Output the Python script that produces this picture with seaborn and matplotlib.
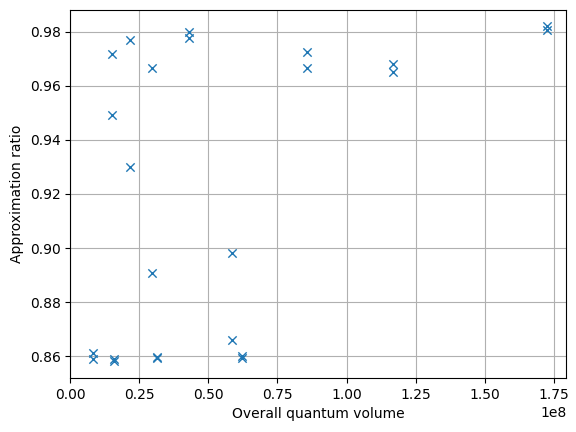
import matplotlib
matplotlib.use("Agg")
import matplotlib.pyplot as plt
from matplotlib.ticker import MultipleLocator
import seaborn as sns
import pandas as pd

volume = [0.083e8, 0.083e8, 0.152e8, 0.152e8, 0.159e8, 0.159e8, 0.217e8, 0.217e8,
          0.297e8, 0.297e8, 0.315e8, 0.315e8, 0.431e8, 0.431e8, 0.586e8, 0.586e8,
          0.622e8, 0.622e8, 0.858e8, 0.858e8, 1.169e8, 1.169e8, 1.727e8, 1.727e8]
ratio = [0.8611, 0.8589, 0.9719, 0.9493, 0.8589, 0.8582, 0.9770, 0.9300,
         0.9665, 0.8907, 0.8597, 0.8593, 0.9800, 0.9778, 0.8980, 0.8660,
         0.8600, 0.8592, 0.9727, 0.9665, 0.9680, 0.9650, 0.9820, 0.9807]

df = pd.DataFrame({"volume": volume, "ratio": ratio})
fig, ax = plt.subplots(figsize=(5.76, 4.32), dpi=100)
sns.scatterplot(data=df, x="volume", y="ratio", marker="x", color="#1f77b4",
                s=36, linewidth=1.0, ax=ax)
ax.grid(True)
ax.set_axisbelow(True)
ax.set_xlim(0, 1.795e8)
ax.set_ylim(0.8519, 0.9881)
ax.xaxis.set_major_locator(MultipleLocator(0.25e8))
ax.set_xlabel("Overall quantum volume")
ax.set_ylabel("Approximation ratio")
fig.subplots_adjust(left=0.122, right=0.983, top=0.977, bottom=0.125)
fig.savefig("out.png")
